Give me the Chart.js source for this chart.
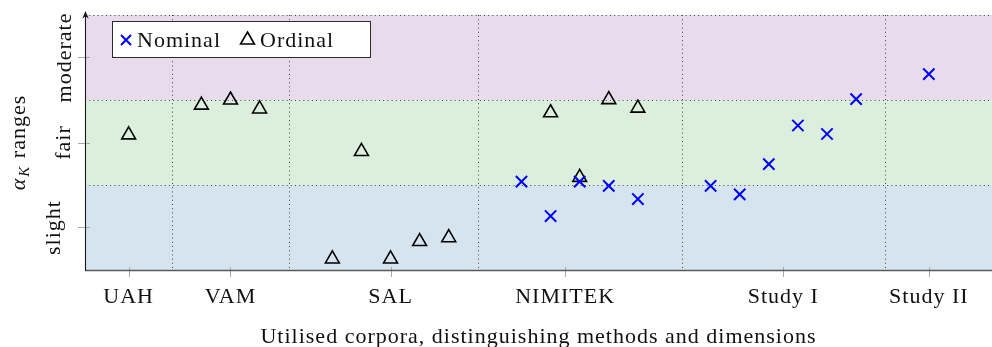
<!DOCTYPE html>
<html>
<head>
<meta charset="utf-8">
<title>Krippendorff alpha ranges per corpus</title>
<script src="https://cdn.jsdelivr.net/npm/chart.js@4/dist/chart.umd.min.js"></script>
<style>
  html, body { margin: 0; padding: 0; background: #ffffff; }
  #wrap { position: relative; width: 992px; height: 347px; }
</style>
</head>
<body>
<div id="wrap"><canvas id="alphaChart"></canvas></div>
<script>
// Corpus groups along the x axis
const groupLabels = ['UAH', 'VAM', 'SAL', 'NIMITEK', 'Study I', 'Study II'];
const groupPos = [0, 3.5, 9, 15, 22.5, 27.5];
const groupBounds = [1.5, 5.5, 12, 19, 26];

// Agreement ranges (Landis & Koch)
const rangeLabels = ['slight', 'fair', 'moderate'];
const rangeEdges = [0, 0.2, 0.4, 0.6];
const rangeMid = [0.1, 0.3, 0.5];

// Ordinal alpha per corpus / method / dimension
const ordinalX = [0, 2.5, 3.5, 4.5, 7, 8, 9, 10, 11, 14.5, 15.5, 16.5, 17.5];
const ordinalY = [0.318, 0.388, 0.400, 0.379, 0.026, 0.279, 0.026, 0.067, 0.076, 0.370, 0.218, 0.401, 0.381];

// Nominal alpha per corpus / method / dimension
const nominalX = [13.5, 14.5, 15.5, 16.5, 17.5, 20, 21, 22, 23, 24, 25, 27.5];
const nominalY = [0.208, 0.127, 0.208, 0.198, 0.167, 0.198, 0.178, 0.249, 0.340, 0.320, 0.402, 0.461];

const FONT = "'Liberation Serif', 'Times New Roman', serif";
const TEXT = '#111111';
const BAND_COLORS = ['#d6e4f0', '#dcefdc', '#e8dcec'];
const NOMINAL_COLOR = '#0000ff';
const ORDINAL_COLOR = '#000000';

function toPoints(xs, ys) {
  return xs.map((x, i) => ({ x: x, y: ys[i] }));
}

const kappaPlugin = {
  id: 'kappaRanges',
  beforeDraw(chart) {
    chart.ctx.letterSpacing = '1px';
  },
  beforeDatasetsDraw(chart) {
    const { ctx, chartArea: a, scales: { x, y } } = chart;
    ctx.save();

    // coloured agreement bands
    for (let i = 0; i < rangeLabels.length; i++) {
      const top = y.getPixelForValue(rangeEdges[i + 1]);
      const bot = y.getPixelForValue(rangeEdges[i]);
      ctx.fillStyle = BAND_COLORS[i];
      ctx.fillRect(a.left, top, a.right - a.left, bot - top);
    }

    // dotted grid: band borders and group separators
    ctx.strokeStyle = 'rgba(40,40,40,0.85)';
    ctx.lineWidth = 1;
    ctx.setLineDash([1, 3.2]);
    rangeEdges.slice(1).forEach(v => {
      const py = Math.round(y.getPixelForValue(v)) + 0.5;
      ctx.beginPath(); ctx.moveTo(a.left, py); ctx.lineTo(a.right, py); ctx.stroke();
    });
    groupBounds.forEach(v => {
      const px = Math.round(x.getPixelForValue(v)) + 0.5;
      ctx.beginPath(); ctx.moveTo(px, a.top); ctx.lineTo(px, a.bottom); ctx.stroke();
    });
    ctx.setLineDash([]);

    // tick marks
    ctx.strokeStyle = '#a8a8a8';
    ctx.lineWidth = 1;
    groupPos.forEach(v => {
      const px = Math.round(x.getPixelForValue(v)) + 0.5;
      ctx.beginPath(); ctx.moveTo(px, a.bottom - 3); ctx.lineTo(px, a.bottom + 7); ctx.stroke();
    });
    rangeMid.forEach(v => {
      const py = Math.round(y.getPixelForValue(v)) + 0.5;
      ctx.beginPath(); ctx.moveTo(a.left - 7, py); ctx.lineTo(a.left + 5, py); ctx.stroke();
    });

    // bottom axis line
    ctx.strokeStyle = '#5a5a5a';
    ctx.lineWidth = 1.5;
    ctx.beginPath(); ctx.moveTo(a.left, a.bottom + 0.5); ctx.lineTo(a.right, a.bottom + 0.5); ctx.stroke();

    // left axis line with arrow head
    const ax = a.left + 0.5;
    ctx.strokeStyle = '#1a1a1a';
    ctx.lineWidth = 1.1;
    ctx.beginPath(); ctx.moveTo(ax, a.bottom + 1); ctx.lineTo(ax, a.top - 1); ctx.stroke();
    ctx.fillStyle = '#1a1a1a';
    ctx.beginPath();
    ctx.moveTo(ax, a.top - 4);
    ctx.lineTo(ax + 3.2, a.top + 3.5);
    ctx.lineTo(ax, a.top + 1.5);
    ctx.lineTo(ax - 3.2, a.top + 3.5);
    ctx.closePath();
    ctx.fill();

    // rotated range labels
    ctx.fillStyle = TEXT;
    ctx.font = '22px ' + FONT;
    ctx.textAlign = 'center';
    ctx.textBaseline = 'alphabetic';
    const labelBase = [59.5, 70, 70.5];
    rangeMid.forEach((v, i) => {
      ctx.save();
      ctx.translate(labelBase[i], y.getPixelForValue(v));
      ctx.rotate(-Math.PI / 2);
      ctx.fillText(rangeLabels[i], 0, 0);
      ctx.restore();
    });

    // y axis title: alpha_K ranges
    ctx.save();
    ctx.translate(24.5, (a.top + a.bottom) / 2);
    ctx.rotate(-Math.PI / 2);
    ctx.textAlign = 'left';
    const fIt = 'italic 22px ' + FONT;
    const fSub = 'italic 15px ' + FONT;
    const fMain = '22px ' + FONT;
    ctx.font = fIt; const wA = ctx.measureText('α').width;
    ctx.font = fSub; const wK = ctx.measureText('K').width;
    ctx.font = fMain; const wR = ctx.measureText(' ranges').width;
    let cx = -(wA + wK + wR + 2) / 2;
    ctx.font = fIt; ctx.fillText('α', cx, 0); cx += wA + 1;
    ctx.font = fSub; ctx.fillText('K', cx, 4); cx += wK + 1;
    ctx.font = fMain; ctx.fillText(' ranges', cx, 0);
    ctx.restore();

    ctx.restore();
  },
  afterDatasetsDraw(chart) {
    const { ctx } = chart;
    ctx.save();
    // legend box
    ctx.fillStyle = '#ffffff';
    ctx.fillRect(112, 21, 259, 37);
    ctx.strokeStyle = '#2a2a2a';
    ctx.lineWidth = 1;
    ctx.strokeRect(112.5, 21.5, 258, 36);

    // nominal marker
    ctx.strokeStyle = NOMINAL_COLOR;
    ctx.lineWidth = 2;
    ctx.beginPath();
    ctx.moveTo(121, 35); ctx.lineTo(131, 45);
    ctx.moveTo(131, 35); ctx.lineTo(121, 45);
    ctx.stroke();

    // ordinal marker
    ctx.strokeStyle = ORDINAL_COLOR;
    ctx.lineWidth = 1.6;
    const tx = 247.5, ty = 40, r = 8;
    ctx.beginPath();
    ctx.moveTo(tx, ty - r);
    ctx.lineTo(tx + r * 0.866, ty + r * 0.5);
    ctx.lineTo(tx - r * 0.866, ty + r * 0.5);
    ctx.closePath();
    ctx.stroke();

    ctx.fillStyle = TEXT;
    ctx.font = '22px ' + FONT;
    ctx.textAlign = 'left';
    ctx.textBaseline = 'alphabetic';
    ctx.fillText('Nominal', 137, 47);
    ctx.fillText('Ordinal', 260, 47);
    ctx.restore();
  }
};

new Chart(document.getElementById('alphaChart'), {
  type: 'scatter',
  data: {
    datasets: [
      {
        label: 'Nominal',
        data: toPoints(nominalX, nominalY),
        pointStyle: 'crossRot',
        pointRadius: 8,
        pointBorderWidth: 2,
        pointBorderColor: NOMINAL_COLOR,
        borderColor: NOMINAL_COLOR,
        backgroundColor: 'rgba(0,0,0,0)',
        pointBackgroundColor: 'rgba(0,0,0,0)'
      },
      {
        label: 'Ordinal',
        data: toPoints(ordinalX, ordinalY),
        pointStyle: 'triangle',
        pointRadius: 8,
        pointBorderWidth: 1.6,
        pointBorderColor: ORDINAL_COLOR,
        borderColor: ORDINAL_COLOR,
        backgroundColor: 'rgba(0,0,0,0)',
        pointBackgroundColor: 'rgba(0,0,0,0)'
      }
    ]
  },
  options: {
    responsive: true,
    maintainAspectRatio: false,
    animation: false,
    events: [],
    layout: { autoPadding: false, padding: { top: 15, right: 0, bottom: 0, left: 0 } },
    plugins: { legend: { display: false }, tooltip: { enabled: false } },
    scales: {
      x: {
        type: 'linear',
        min: -1.5,
        max: 29.67,
        bounds: 'data',
        afterBuildTicks: s => { s.ticks = groupPos.map(v => ({ value: v })); },
        afterFit: s => { s.height = 77; },
        grid: { display: false },
        border: { display: false },
        ticks: {
          autoSkip: false, maxRotation: 0, minRotation: 0, padding: 6,
          color: TEXT, font: { family: FONT, size: 22 },
          callback: (v, i) => groupLabels[i]
        },
        title: {
          display: true,
          text: 'Utilised corpora, distinguishing methods and dimensions',
          color: TEXT, font: { family: FONT, size: 22 },
          padding: { top: 0, bottom: -3 }
        }
      },
      y: {
        type: 'linear',
        min: 0,
        max: 0.6,
        afterBuildTicks: s => { s.ticks = rangeMid.map(v => ({ value: v })); },
        afterFit: s => { s.width = 85; },
        grid: { display: false },
        border: { display: false },
        ticks: { display: false }
      }
    }
  },
  plugins: [kappaPlugin]
});
</script>
</body>
</html>
